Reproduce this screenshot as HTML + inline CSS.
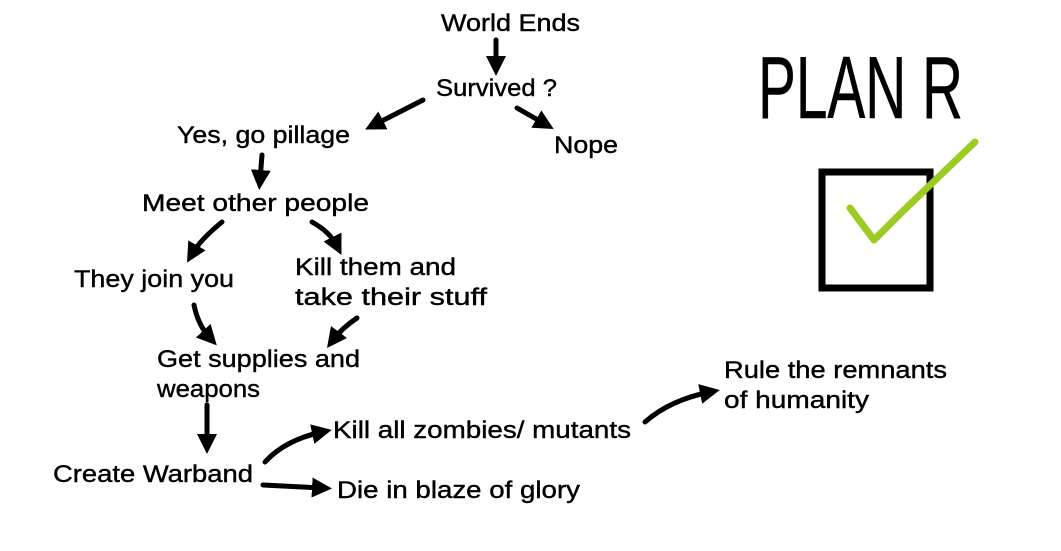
<!DOCTYPE html>
<html><head><meta charset="utf-8"><style>
html,body{margin:0;padding:0;background:#fff;}
svg{display:block;}
text{font-family:"Liberation Sans",sans-serif;font-size:24px;fill:#000;stroke:#000;stroke-width:0.4;}
</style></head><body>
<svg width="1061" height="551" viewBox="0 0 1061 551" xmlns="http://www.w3.org/2000/svg">
<defs>
<marker id="a" viewBox="0 0 10 10" refX="5" refY="5" markerWidth="4" markerHeight="4" orient="auto-start-reverse">
<path d="M0,0 L10,5 L0,10 z" fill="#000"/>
</marker>
</defs>
<g>
<text x="441" y="31" textLength="139" lengthAdjust="spacingAndGlyphs">World Ends</text>
<text x="436" y="96" textLength="121" lengthAdjust="spacingAndGlyphs">Survived ?</text>
<text x="177" y="143" textLength="173" lengthAdjust="spacingAndGlyphs">Yes, go pillage</text>
<text x="554" y="153" textLength="64" lengthAdjust="spacingAndGlyphs">Nope</text>
<text x="142" y="211" textLength="227" lengthAdjust="spacingAndGlyphs">Meet other people</text>
<text x="74" y="287" textLength="160" lengthAdjust="spacingAndGlyphs">They join you</text>
<text x="295" y="275" textLength="161" lengthAdjust="spacingAndGlyphs">Kill them and</text>
<text x="295" y="305" textLength="192" lengthAdjust="spacingAndGlyphs">take their stuff</text>
<text x="157" y="367" textLength="203" lengthAdjust="spacingAndGlyphs">Get supplies and</text>
<text x="157" y="397" textLength="103" lengthAdjust="spacingAndGlyphs">weapons</text>
<text x="333" y="438" textLength="298" lengthAdjust="spacingAndGlyphs">Kill all zombies/ mutants</text>
<text x="724" y="378" textLength="223" lengthAdjust="spacingAndGlyphs">Rule the remnants</text>
<text x="724" y="408" textLength="145" lengthAdjust="spacingAndGlyphs">of humanity</text>
<text x="53" y="482" textLength="200" lengthAdjust="spacingAndGlyphs">Create Warband</text>
<text x="337" y="498" textLength="243" lengthAdjust="spacingAndGlyphs">Die in blaze of glory</text>
<text x="758" y="118" style="font-size:88px" textLength="205" lengthAdjust="spacingAndGlyphs">PLAN R</text>
</g>
<g stroke="#000" stroke-width="5" fill="none" stroke-linecap="round" marker-end="url(#a)">
<path d="M496,40 L496,66"/>
<path d="M423,100 L374,125"/>
<path d="M517,108 L545,124"/>
<path d="M262,155 L260,180"/>
<path d="M222,222 Q200,240 192,254"/>
<path d="M312,222 Q330,232 337,246"/>
<path d="M194,305 Q198,325 210,338"/>
<path d="M357,318 Q342,328 333,340"/>
<path d="M207,405 L207,444"/>
<path d="M265,462 Q285,440 322,432"/>
<path d="M263,485 L322,488"/>
<path d="M645,422 Q670,400 710,392"/>
</g>
<rect x="822" y="172" width="108" height="116" fill="none" stroke="#000" stroke-width="7"/>
<path d="M850,208 L874,240 L902,212 L975,142" fill="none" stroke="#9ccc22" stroke-width="7" stroke-linecap="round" stroke-linejoin="round"/>
</svg>
</body></html>
